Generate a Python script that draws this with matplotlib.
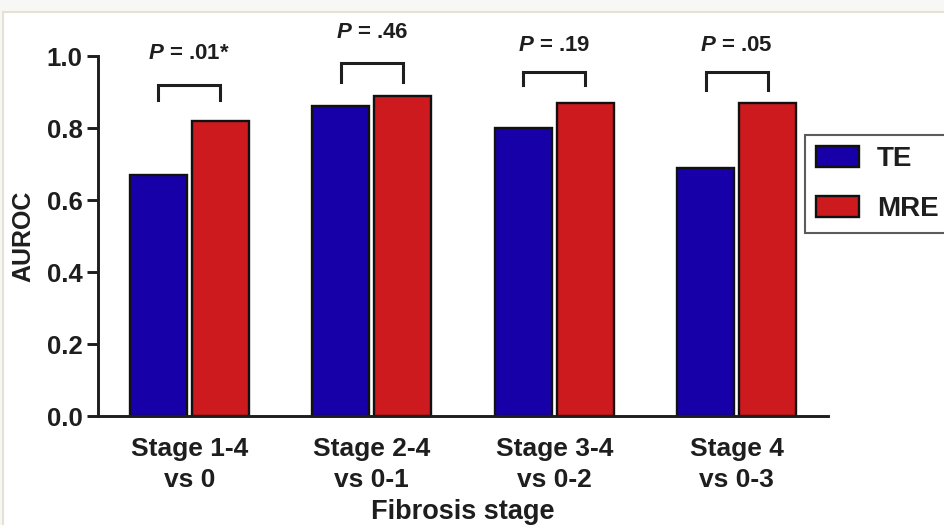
import matplotlib
matplotlib.use('Agg')
import matplotlib.pyplot as plt
from matplotlib.patches import Rectangle
import numpy as np

plt.rcParams['font.family'] = ['Liberation Sans', 'DejaVu Sans']
plt.rcParams['font.weight'] = 'bold'
plt.rcParams['mathtext.fontset'] = 'custom'
plt.rcParams['mathtext.it'] = 'Liberation Sans:italic:bold'
plt.rcParams['mathtext.rm'] = 'Liberation Sans:bold'

stages = ['Stage 1-4\nvs 0', 'Stage 2-4\nvs 0-1', 'Stage 3-4\nvs 0-2', 'Stage 4\nvs 0-3']
te_auroc = [0.67, 0.86, 0.80, 0.69]
mre_auroc = [0.82, 0.89, 0.87, 0.87]
p_labels = ['.01*', '.46', '.19', '.05']

# bracket heights (top, leg end) and label heights, in axis units
bracket_top = [0.92, 0.98, 0.956, 0.956]
bracket_leg = [0.878, 0.928, 0.92, 0.906]
label_y = [1.008, 1.064, 1.03, 1.03]

te_color = '#1800a8'
mre_color = '#cc1a1e'
ink = '#1e1e1e'

fig = plt.figure(figsize=(9.44, 5.25), dpi=100, facecolor='#f7f7f5')
fig.patches.append(Rectangle((3 / 944, -0.01), 1.0, 1 - 12 / 525 + 0.01,
                             transform=fig.transFigure, facecolor='white',
                             edgecolor='#e6e1d2', linewidth=1.5, zorder=-1))

ax = fig.add_axes([98 / 944, 1 - 416 / 525, 730 / 944, 360 / 525])
ax.set_facecolor('none')

x = np.arange(len(stages))
w = 0.31
off = 0.17
ax.bar(x - off, te_auroc, w, color=te_color, edgecolor='#111111', linewidth=1.7, label='TE')
ax.bar(x + off, mre_auroc, w, color=mre_color, edgecolor='#111111', linewidth=1.7, label='MRE')

for i in range(len(stages)):
    x0, x1 = x[i] - off, x[i] + off
    ax.plot([x0, x0, x1, x1], [bracket_leg[i], bracket_top[i], bracket_top[i], bracket_leg[i]],
            color=ink, linewidth=2.2, clip_on=False, solid_joinstyle='miter')
    ax.text(x[i], label_y[i], r'$\mathit{P}$ = ' + p_labels[i], ha='center', va='center',
            fontsize=16, fontweight='bold', color=ink, clip_on=False)

ax.set_xlim(-0.5, 3.5)
ax.set_ylim(0, 1.0)
ax.set_yticks([0.0, 0.2, 0.4, 0.6, 0.8, 1.0])
ax.set_yticklabels(['0.0', '0.2', '0.4', '0.6', '0.8', '1.0'])
ax.set_xticks(x)
ax.set_xticklabels(stages, linespacing=1.38)

ax.spines['right'].set_visible(False)
ax.spines['top'].set_visible(False)
for side in ['left', 'bottom']:
    ax.spines[side].set_linewidth(2.1)
    ax.spines[side].set_color(ink)
ax.tick_params(axis='y', length=8, width=2.1, pad=3, labelsize=18.5, color=ink, labelcolor=ink)
ax.tick_params(axis='x', length=0, pad=15, labelsize=19, labelcolor=ink)

ax.set_ylabel('AUROC', fontsize=18, fontweight='bold', color=ink, labelpad=8)
ax.set_xlabel('Fibrosis stage', fontsize=19.5, fontweight='bold', color=ink, labelpad=5)

leg = fig.legend(loc='upper left', bbox_to_anchor=(805 / 944, 1 - 135 / 525),
                 fontsize=20, frameon=True, fancybox=False, edgecolor='#333333',
                 handlelength=1.55, handleheight=0.8, handletextpad=0.65,
                 labelspacing=0.85, borderpad=0.4, borderaxespad=0)
leg.get_frame().set_linewidth(1.5)
for t in leg.get_texts():
    t.set_color(ink)

fig.savefig('out.png', dpi=100, facecolor=fig.get_facecolor())
